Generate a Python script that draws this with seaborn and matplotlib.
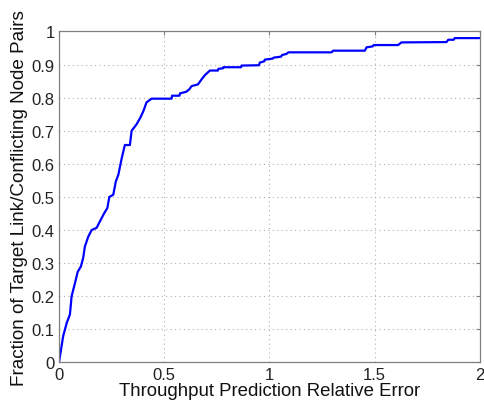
import matplotlib
matplotlib.use("Agg")
import matplotlib.pyplot as plt
import seaborn as sns
import pandas as pd

# Traced CDF of relative prediction error
rel_error = [0.0, 0.02, 0.037, 0.052, 0.06, 0.076, 0.089, 0.104, 0.115, 0.123,
             0.139, 0.155, 0.179, 0.195, 0.214, 0.23, 0.239, 0.258, 0.27, 0.282,
             0.298, 0.313, 0.337, 0.345, 0.369, 0.385, 0.40, 0.416, 0.44, 0.535,
             0.537, 0.572, 0.575, 0.605, 0.62, 0.63, 0.66, 0.677, 0.693, 0.717,
             0.755, 0.757, 0.78, 0.78, 0.865, 0.867, 0.95, 0.954, 0.975, 0.978,
             1.015, 1.02, 1.055, 1.06, 1.08, 1.09, 1.295, 1.302, 1.453, 1.461,
             1.49, 1.495, 1.611, 1.627, 1.841, 1.849, 1.875, 1.88, 2.0]
fraction = [0.0, 0.08, 0.12, 0.145, 0.20, 0.24, 0.274, 0.29, 0.316, 0.35,
            0.38, 0.40, 0.407, 0.427, 0.45, 0.467, 0.50, 0.507, 0.547, 0.567,
            0.617, 0.657, 0.657, 0.70, 0.72, 0.738, 0.758, 0.786, 0.797, 0.797,
            0.806, 0.806, 0.813, 0.818, 0.826, 0.835, 0.84, 0.855, 0.868, 0.882,
            0.882, 0.887, 0.889, 0.892, 0.892, 0.897, 0.898, 0.906, 0.91, 0.915,
            0.918, 0.921, 0.924, 0.929, 0.932, 0.937, 0.937, 0.942, 0.942, 0.952,
            0.955, 0.959, 0.959, 0.967, 0.968, 0.975, 0.975, 0.98, 0.98]

x_ticks = [0, 0.5, 1, 1.5, 2]
x_tick_labels = ["0", "0.5", "1", "1.5", "2"]
y_ticks = [0, 0.1, 0.2, 0.3, 0.4, 0.5, 0.6, 0.7, 0.8, 0.9, 1.0]
y_tick_labels = ["0", "0.1", "0.2", "0.3", "0.4", "0.5", "0.6", "0.7", "0.8", "0.9", "1"]

df = pd.DataFrame({"err": rel_error, "frac": fraction})

sns.set_style("white")
plt.rcParams["font.family"] = ["Liberation Sans", "DejaVu Sans"]

fig = plt.figure(figsize=(4.85, 4.06), dpi=100)
ax = fig.add_axes([0.1216, 0.1047, 0.8681, 0.8153])

sns.lineplot(data=df, x="err", y="frac", sort=False, color="#0000ff",
             linewidth=1.6, ax=ax, estimator=None)

ax.set_xlim(0, 2)
ax.set_ylim(0, 1)
ax.set_xticks(x_ticks)
ax.set_xticklabels(x_tick_labels)
ax.set_yticks(y_ticks)
ax.set_yticklabels(y_tick_labels)

ax.grid(True, linestyle=(0, (1, 3)), color="#b0b0b0", linewidth=0.8)
for s in ax.spines.values():
    s.set_visible(True)
    s.set_color("#808080")
    s.set_linewidth(0.9)

ax.tick_params(direction="in", length=3, width=0.8, color="#808080",
               top=True, right=True, labelsize=12, labelcolor="#222222", pad=3)

ax.set_xlabel("Throughput Prediction Relative Error", fontsize=13.4, labelpad=0,
              color="#111111")
ax.set_ylabel("Fraction of Target Link/Conflicting Node Pairs", fontsize=13.6,
              labelpad=3, color="#111111")

fig.savefig("out.png", dpi=100)
